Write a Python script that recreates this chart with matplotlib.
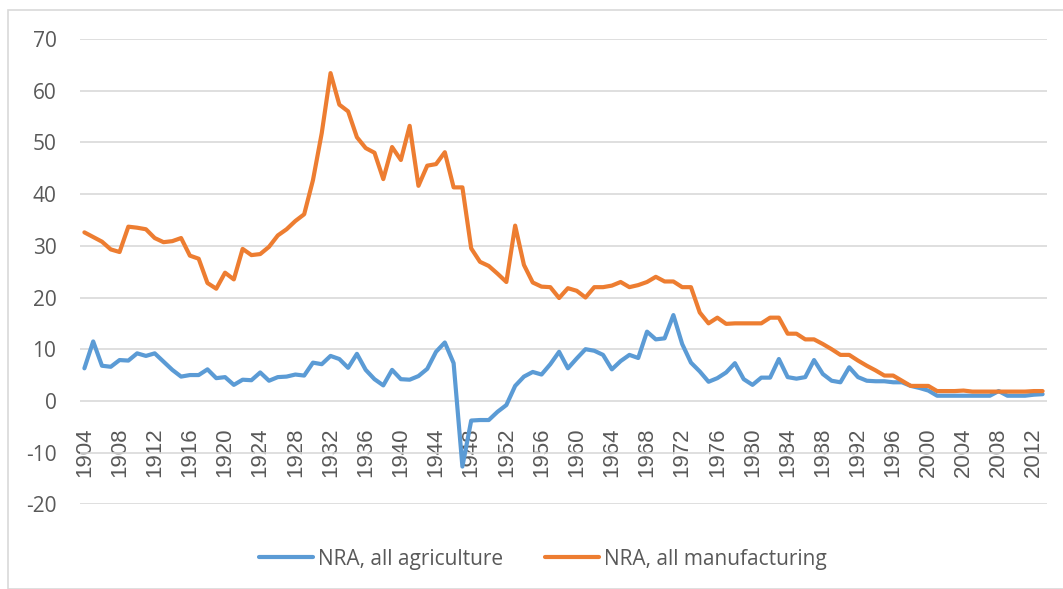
import numpy as np
import matplotlib.pyplot as plt
from matplotlib.patches import Rectangle

years = list(range(1904, 2014))

agriculture = [
    6.3, 11.5, 6.8, 6.6, 7.9, 7.8, 9.2, 8.7, 9.2, 7.6,
    6.0, 4.7, 5.0, 5.0, 6.1, 4.4, 4.6, 3.1, 4.1, 4.0,
    5.5, 3.9, 4.6, 4.7, 5.1, 4.9, 7.4, 7.1, 8.7, 8.1,
    6.4, 9.1, 6.0, 4.2, 3.0, 6.0, 4.2, 4.1, 4.8, 6.2,
    9.5, 11.3, 7.3, -12.7, -3.8, -3.7, -3.7, -2.1, -0.8, 2.9,
    4.7, 5.6, 5.1, 7.1, 9.5, 6.3, 8.2, 10.0, 9.7, 8.9,
    6.1, 7.7, 8.9, 8.3, 13.4, 11.9, 12.1, 16.6, 11.0, 7.4,
    5.7, 3.7, 4.4, 5.5, 7.3, 4.2, 3.1, 4.5, 4.5, 8.1,
    4.6, 4.3, 4.6, 7.9, 5.2, 3.9, 3.6, 6.5, 4.6, 3.9,
    3.8, 3.8, 3.6, 3.6, 2.9, 2.5, 2.0, 1.0, 1.0, 1.0,
    1.0, 1.0, 1.0, 1.0, 1.9, 1.0, 1.0, 1.0, 1.2, 1.3,
]

manufacturing = [
    32.6, 31.7, 30.8, 29.3, 28.8, 33.7, 33.5, 33.2, 31.5, 30.7,
    30.9, 31.5, 28.1, 27.5, 22.8, 21.7, 24.8, 23.5, 29.4, 28.2,
    28.4, 29.8, 32.0, 33.2, 34.8, 36.1, 42.7, 51.8, 63.4, 57.3,
    56.0, 51.0, 48.9, 48.0, 42.9, 49.1, 46.6, 53.2, 41.6, 45.5,
    45.8, 48.1, 41.3, 41.3, 29.5, 26.9, 26.1, 24.6, 23.0, 33.9,
    26.3, 22.9, 22.1, 22.0, 19.9, 21.8, 21.3, 20.0, 22.0, 22.0,
    22.3, 23.0, 22.0, 22.4, 23.0, 24.0, 23.1, 23.1, 22.0, 22.0,
    17.1, 15.0, 16.1, 14.9, 15.0, 15.0, 15.0, 15.0, 16.1, 16.1,
    13.0, 13.0, 11.9, 11.9, 11.0, 10.0, 8.9, 8.9, 7.8, 6.8,
    5.9, 4.9, 4.9, 3.9, 2.9, 2.9, 2.9, 1.9, 1.9, 1.9,
    2.0, 1.8, 1.8, 1.8, 1.8, 1.8, 1.8, 1.8, 1.9, 1.9,
]

year_ticks = list(range(1904, 2013, 4))
y_ticks = list(range(-20, 71, 10))

plt.rcParams['font.family'] = ['Open Sans', 'DejaVu Sans']
plt.rcParams['axes.unicode_minus'] = False

fig = plt.figure(figsize=(10.63, 5.89), dpi=100)
ax = fig.add_axes([80 / 1063, 1 - 504.3 / 589, 967 / 1063, 465.3 / 589])

ax.plot(years, agriculture, color='#5B9BD5', linewidth=3, label='NRA, all agriculture',
        solid_joinstyle='round', solid_capstyle='round', zorder=3)
ax.plot(years, manufacturing, color='#ED7D31', linewidth=3, label='NRA, all manufacturing',
        solid_joinstyle='round', solid_capstyle='round', zorder=3)

# axis labels sit on the zero line, like excel
for s in ['top', 'right', 'left']:
    ax.spines[s].set_visible(False)
ax.spines['bottom'].set_position(('data', 0))
ax.spines['bottom'].set_visible(False)

ax.set_xlim(1903.5, 2013.5)
ax.set_ylim(-20, 70)
ax.set_yticks(y_ticks)
ax.set_xticks(year_ticks)
ax.set_xticklabels([str(y) for y in year_ticks], rotation=90, fontsize=16,
                   family=['Liberation Sans', 'DejaVu Sans'], va='top')
ax.grid(axis='y', color='#D9D9D9', linewidth=1.2)
ax.set_axisbelow(True)

ax.tick_params(axis='x', length=0, pad=19, colors='#595959')
ax.tick_params(axis='y', length=0, pad=17, labelsize=15, colors='#595959')

fig.legend(loc='center', bbox_to_anchor=(543 / 1063, 1 - 559 / 589), ncol=2, frameon=False,
           fontsize=15, labelcolor='#595959', handlelength=2.6, handletextpad=0.25,
           columnspacing=2.0)

fig.patches.append(Rectangle((8 / 1063, 0), 1.2, 1 - 10 / 589, transform=fig.transFigure,
                             fill=False, edgecolor='#D9D9D9', linewidth=1.2))

fig.savefig('out.png', dpi=100)
